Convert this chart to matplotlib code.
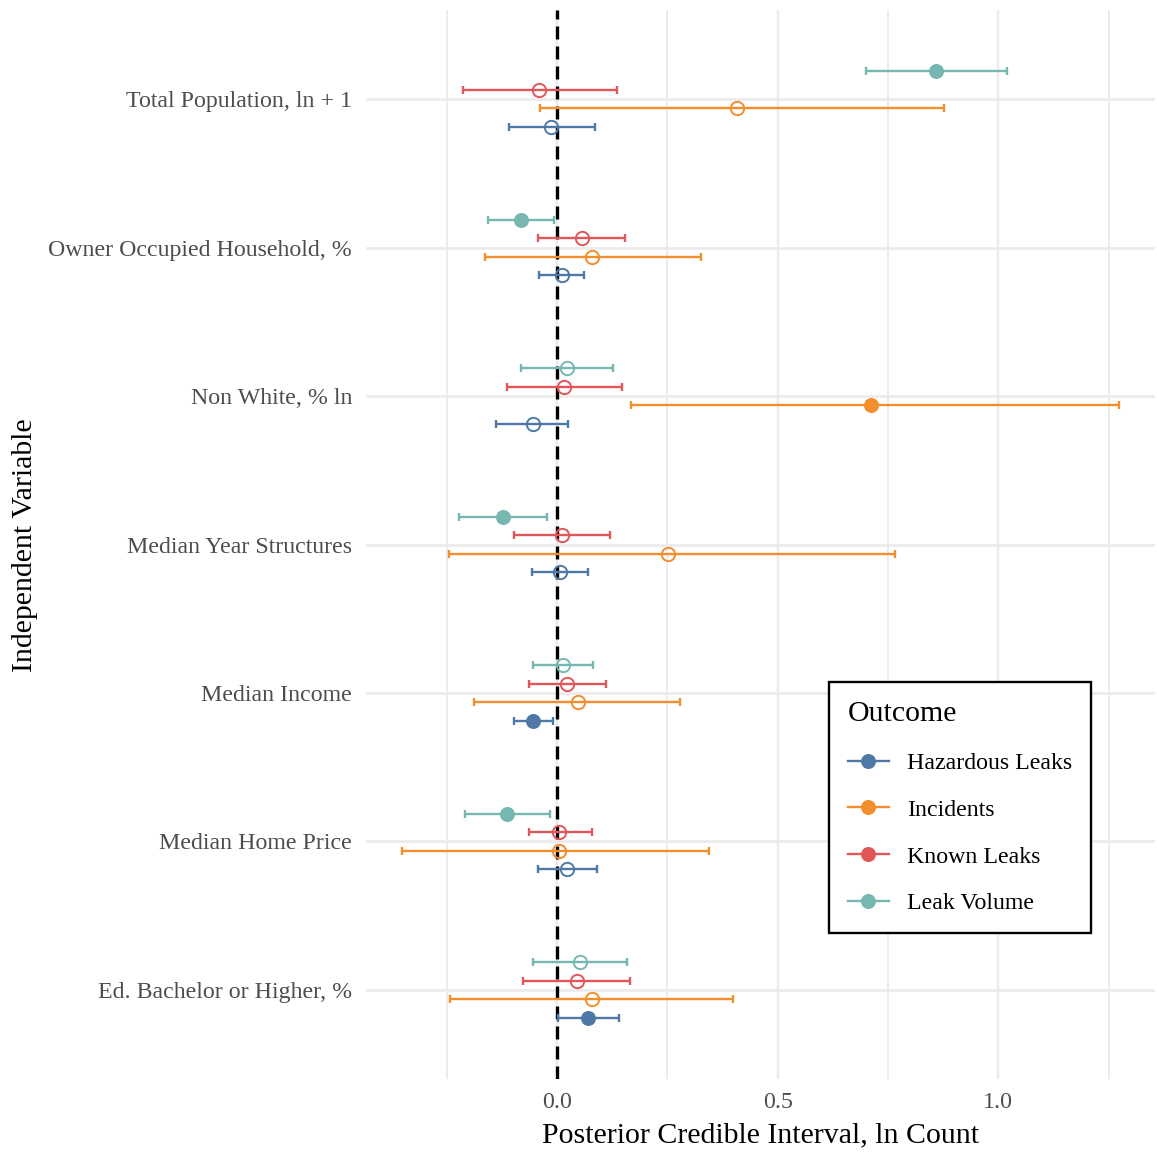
import numpy as np
import matplotlib
matplotlib.use("Agg")
import matplotlib.pyplot as plt
from matplotlib.lines import Line2D

plt.rcParams['font.family'] = ['Liberation Serif', 'DejaVu Serif']

# predictors, top to bottom
variables = [
    "Total Population, ln + 1",
    "Owner Occupied Household, %",
    "Non White, % ln",
    "Median Year Structures",
    "Median Income",
    "Median Home Price",
    "Ed. Bachelor or Higher, %",
]

outcomes = ["Hazardous Leaks", "Incidents", "Known Leaks", "Leak Volume"]
colors = ["#4E79A7", "#F28E2B", "#E15759", "#76B7B2"]

# posterior means and credible bounds per outcome
hazardous_est = [-0.013, 0.010, -0.055, 0.007, -0.054, 0.023, 0.071]
hazardous_lo = [-0.109, -0.041, -0.139, -0.058, -0.097, -0.043, 0.002]
hazardous_hi = [0.085, 0.062, 0.025, 0.070, -0.009, 0.091, 0.140]

incidents_est = [0.408, 0.079, 0.711, 0.251, 0.048, 0.005, 0.080]
incidents_lo = [-0.038, -0.164, 0.167, -0.245, -0.188, -0.352, -0.242]
incidents_hi = [0.876, 0.325, 1.274, 0.766, 0.279, 0.344, 0.399]

known_est = [-0.040, 0.056, 0.016, 0.012, 0.023, 0.005, 0.044]
known_lo = [-0.214, -0.043, -0.113, -0.097, -0.063, -0.063, -0.078]
known_hi = [0.135, 0.154, 0.146, 0.120, 0.110, 0.079, 0.165]

volume_est = [0.858, -0.083, 0.023, -0.123, 0.014, -0.114, 0.051]
volume_lo = [0.700, -0.157, -0.081, -0.222, -0.054, -0.209, -0.054]
volume_hi = [1.020, -0.008, 0.126, -0.024, 0.081, -0.016, 0.158]

series = [
    (hazardous_est, hazardous_lo, hazardous_hi),
    (incidents_est, incidents_lo, incidents_hi),
    (known_est, known_lo, known_hi),
    (volume_est, volume_lo, volume_hi),
]
# dodge offsets within a row (y axis is inverted, so Leak Volume sits on top)
offsets = [0.1875, 0.0625, -0.0625, -0.1875]

W, H = 1157, 1153
fig = plt.figure(figsize=(W / 100, H / 100), dpi=100)
ax = fig.add_axes([366 / W, 1 - 1079 / H, (1155 - 366) / W, (1079 - 10) / H])

# x limits with 5% padding on the data range
all_lo = min(min(s[1]) for s in series)
all_hi = max(max(s[2]) for s in series)
pad = 0.05 * (all_hi - all_lo)
ax.set_xlim(all_lo - pad, all_hi + pad)
ax.set_ylim(len(variables) - 0.4, -0.6)

# grid
grid_col = "#EBEBEB"
for xv in [0.0, 0.5, 1.0]:
    ax.axvline(xv, color=grid_col, lw=1.7, zorder=0)
for xv in [-0.25, 0.25, 0.75, 1.25]:
    ax.axvline(xv, color=grid_col, lw=1.3, zorder=0)
for yv in range(len(variables)):
    ax.axhline(yv, color=grid_col, lw=1.9, zorder=0)

ax.axvline(0, color="black", lw=2.4, dashes=(3.9, 2.1), zorder=1)

ypos = np.arange(len(variables))
for (est, lo, hi), col, off in zip(series, colors, offsets):
    est = np.array(est)
    lo = np.array(lo)
    hi = np.array(hi)
    y = ypos + off
    ax.errorbar(est, y, xerr=[est - lo, hi - est], fmt="none", ecolor=col,
                elinewidth=1.7, capsize=3.2, capthick=1.7, zorder=3)
    sig = (lo > 0) | (hi < 0)
    ax.plot(est[sig], y[sig], "o", color=col, markersize=10.8, zorder=4,
            markeredgewidth=0)
    ax.plot(est[~sig], y[~sig], "o", color=col, markersize=9.6, zorder=4,
            markerfacecolor="none", markeredgewidth=1.4)

ax.set_yticks(ypos)
ax.set_yticklabels(variables)
ax.set_xticks([0.0, 0.5, 1.0])
ax.set_xticklabels(["0.0", "0.5", "1.0"])
ax.tick_params(axis="both", length=0, labelsize=17.2, colors="#4D4D4D")
ax.tick_params(axis="y", pad=10)
ax.tick_params(axis="x", pad=9)
for s in ax.spines.values():
    s.set_visible(False)

ax.set_xlabel("Posterior Credible Interval, ln Count", fontsize=21.5,
              labelpad=7)
fig.text(25 / W, 1 - 545 / H, "Independent Variable", rotation=90,
         fontsize=21.5, ha="center", va="center")

handles = [Line2D([], [], color=c, lw=1.7, marker="o", markersize=10.8,
                  markeredgewidth=0) for c in colors]
leg = ax.legend(handles, outcomes, title="Outcome", fontsize=17.2,
                title_fontsize=21.5, loc="upper left",
                bbox_to_anchor=(829 / W, 1 - 682 / H),
                bbox_transform=fig.transFigure, alignment="left",
                frameon=True, fancybox=False, framealpha=1,
                handlelength=1.7, handletextpad=0.75, labelspacing=1.05,
                borderpad=0.8, borderaxespad=0)
leg.get_frame().set_edgecolor("black")
leg.get_frame().set_linewidth(1.7)

fig.savefig("out.png", dpi=100)
